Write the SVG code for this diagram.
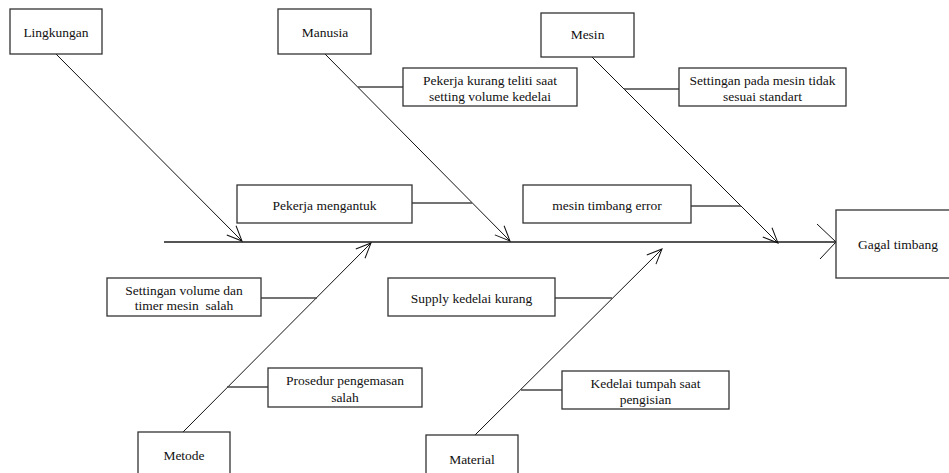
<svg xmlns="http://www.w3.org/2000/svg" width="949" height="473" viewBox="0 0 949 473">
<style>
.box{fill:#fff;stroke:#333;stroke-width:1.3}
.t{font-family:'Liberation Serif','DejaVu Serif',serif;font-size:13.5px;fill:#111;text-anchor:middle}
.bone{stroke:#111;stroke-width:1;fill:none}
.br{stroke:#444;stroke-width:1.4;fill:none}
.spine{stroke:#555;stroke-width:1.8;fill:none}
</style>
<defs>
<marker id="arr" viewBox="-16 -8 18 16" markerWidth="18" markerHeight="16" refX="0" refY="0" orient="auto" markerUnits="userSpaceOnUse">
<path d="M-15,-6.5 L0,0 L-15,6.5" fill="none" stroke="#111" stroke-width="1"/>
</marker>
<marker id="arrBig" viewBox="-22 -20 24 40" markerWidth="24" markerHeight="40" refX="0" refY="0" orient="auto" markerUnits="userSpaceOnUse">
<path d="M-19,-18 L0,0 L-16,17" fill="none" stroke="#111" stroke-width="1"/>
</marker>
</defs>
<g id="connectors">
<line class="spine" x1="164" y1="242" x2="836" y2="242" marker-end="url(#arrBig)"/>
<line class="bone" x1="56" y1="54" x2="242" y2="241" marker-end="url(#arr)"/>
<line class="bone" x1="325" y1="54" x2="510" y2="241" marker-end="url(#arr)"/>
<line class="bone" x1="592" y1="57" x2="778" y2="243" marker-end="url(#arr)"/>
<line class="bone" x1="183" y1="432" x2="371" y2="243" marker-end="url(#arr)"/>
<line class="bone" x1="475" y1="435" x2="662" y2="249" marker-end="url(#arr)"/>
<line class="br" x1="358" y1="87" x2="403" y2="87"/>
<line class="br" x1="624" y1="89" x2="679" y2="89"/>
<line class="br" x1="412" y1="203" x2="472" y2="203"/>
<line class="br" x1="691" y1="206" x2="741" y2="206"/>
<line class="br" x1="261" y1="298" x2="317" y2="298"/>
<line class="br" x1="227" y1="387" x2="268" y2="387"/>
<line class="br" x1="555" y1="298" x2="612" y2="298"/>
<line class="br" x1="521" y1="390" x2="562" y2="390"/>
</g>
<g font-family="Liberation Serif, DejaVu Serif, serif">
<g id="lingkungan"><rect class="box" x="10" y="9" width="92" height="45"/><text class="t" x="56" y="36.5">Lingkungan</text></g>
<g id="manusia"><rect class="box" x="278" y="9" width="93" height="45"/><text class="t" x="325" y="36.5">Manusia</text></g>
<g id="mesin"><rect class="box" x="541" y="13" width="93" height="44"/><text class="t" x="587.5" y="38.5">Mesin</text></g>
<g id="pekerja-kurang-teliti"><rect class="box" x="403" y="68" width="174" height="38"/><text class="t" x="490" y="84.5">Pekerja kurang teliti saat</text><text class="t" x="490" y="100.5">setting volume kedelai</text></g>
<g id="settingan-mesin"><rect class="box" x="679" y="68" width="167" height="38"/><text class="t" x="762.5" y="84.5">Settingan pada mesin tidak</text><text class="t" x="762.5" y="100.5">sesuai standart</text></g>
<g id="pekerja-mengantuk"><rect class="box" x="237" y="185" width="175" height="38"/><text class="t" x="324.5" y="209.5">Pekerja mengantuk</text></g>
<g id="mesin-timbang-error"><rect class="box" x="523" y="185" width="168" height="38"/><text class="t" x="607" y="209.5">mesin timbang error</text></g>
<g id="gagal-timbang"><rect class="box" x="836" y="210" width="120" height="68"/><text class="t" x="898" y="249">Gagal timbang</text></g>
<g id="settingan-volume"><rect class="box" x="107" y="278" width="154" height="38"/><text class="t" x="184" y="294.5">Settingan volume dan</text><text class="t" x="184" y="309.5" xml:space="preserve">timer mesin  salah</text></g>
<g id="supply-kedelai"><rect class="box" x="388" y="278" width="167" height="38"/><text class="t" x="471.5" y="302.5">Supply kedelai kurang</text></g>
<g id="prosedur"><rect class="box" x="268" y="368" width="154" height="39"/><text class="t" x="345" y="384.5">Prosedur pengemasan</text><text class="t" x="345" y="401.5">salah</text></g>
<g id="kedelai-tumpah"><rect class="box" x="562" y="371" width="167" height="38"/><text class="t" x="645.5" y="387.5">Kedelai tumpah saat</text><text class="t" x="645.5" y="403.5">pengisian</text></g>
<g id="metode"><rect class="box" x="138" y="432" width="92" height="50"/><text class="t" x="184" y="459.5">Metode</text></g>
<g id="material"><rect class="box" x="426" y="435" width="92" height="50"/><text class="t" x="472" y="463.5">Material</text></g>
</g>
</svg>
